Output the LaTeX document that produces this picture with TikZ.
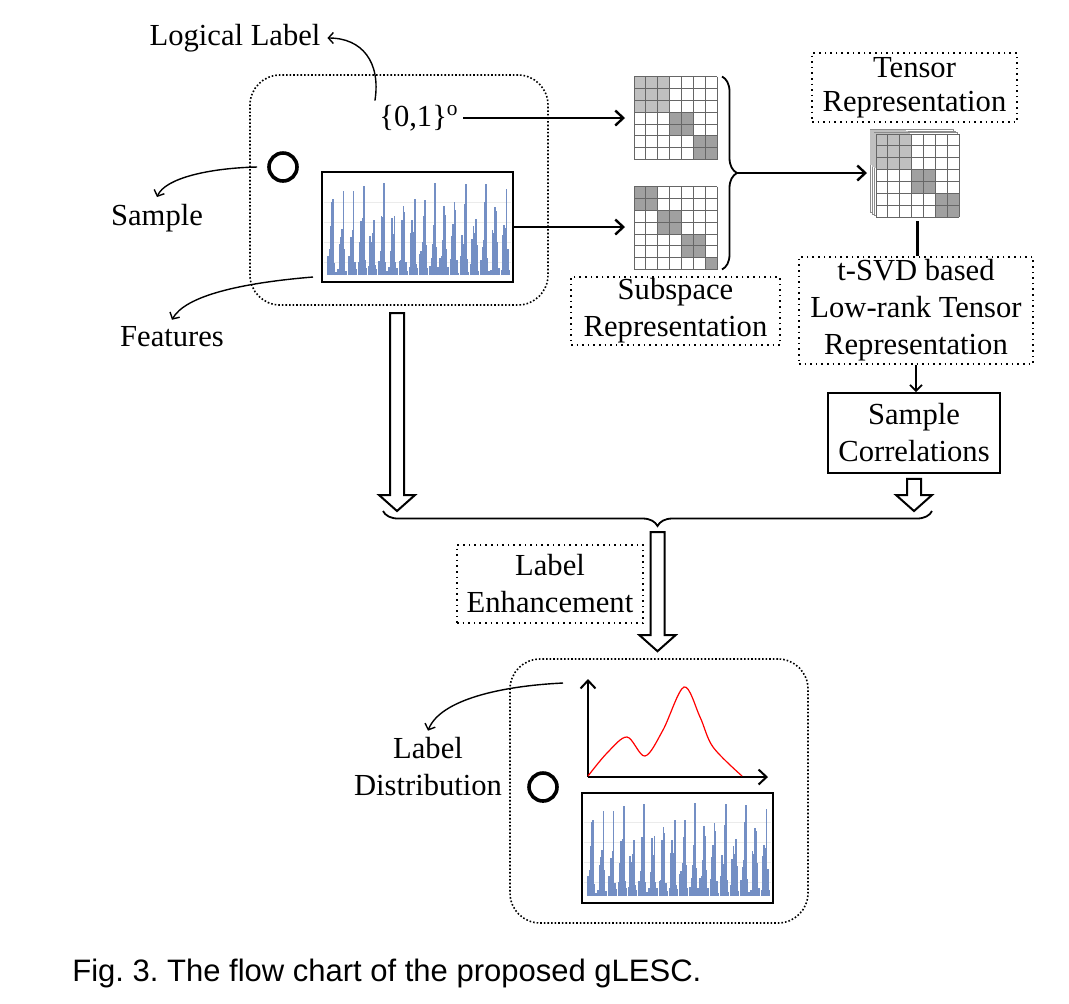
\documentclass[tikz,border=0pt]{standalone}
\usepackage{fontspec}
\setmainfont{Liberation Serif}
\setsansfont{Liberation Sans}
\usetikzlibrary{calc,positioning,arrows.meta,decorations.pathreplacing}
\definecolor{barblue}{RGB}{116,143,196}
\definecolor{cellgray}{RGB}{192,192,192}
\definecolor{blockgray}{RGB}{160,160,160}

% spectrum drawn inside a framed chart node
\newcommand{\barchart}[1]{%
  \begin{scope}[shift={(#1.south west)}]
    \pgfmathsetseed{17}
    \foreach \g in {20,40,60,80} \draw[black!8, line width=0.3pt] (2,-\g) -- (189,-\g);
    \foreach \k in {0,...,17} {
      \foreach \j/\lo/\span in {0/4/18, 1/15/30, 2/30/30, 3/40/35, 4/55/38, 5/10/25, 6/2/6} {
        \pgfmathsetmacro{\hh}{\lo+\span*rnd}
        \draw[barblue, line width=0.75pt] (6+\k*10.2+\j*1.3,-7) -- ++(0,-\hh);
      }
    }
  \end{scope}}

% 7x7 block matrix on a mat node
\newcommand{\blockmat}[2]{%
  \begin{scope}[shift={(#1.north west)}]
    \fill[white] (0,0) rectangle (83,83);
    \foreach \r/\n/\cl in {#2}
      \fill[\cl] (\r*11.857,\r*11.857) rectangle ++(\n*11.857,\n*11.857);
    \foreach \i in {0,...,7} {
      \draw[black!60, line width=0.4pt] (\i*11.857,0) -- (\i*11.857,83);
      \draw[black!60, line width=0.4pt] (0,\i*11.857) -- (83,\i*11.857);
    }
  \end{scope}}

\newcommand{\hollowdown}[2]{%
  \draw[line width=1pt, fill=white] let \p1=(#1), \p2=(#2) in
    (\x1-3.5pt,\y1) -- (\x1-3.5pt,\y2+8pt) -- (\x1-9pt,\y2+8pt) -- (\x1,\y2)
    -- (\x1+9pt,\y2+8pt) -- (\x1+3.5pt,\y2+8pt) -- (\x1+3.5pt,\y1) -- cycle;}

\begin{document}
\frenchspacing
\begin{tikzpicture}[
  x=0.5pt, y=-0.5pt,
  font=\fontsize{15.3}{18.5}\selectfont,
  dotbox/.style={draw, dotted, line width=0.8pt, align=center, inner sep=0pt},
  solidbox/.style={draw, line width=0.8pt, align=center, inner sep=0pt},
  group/.style={draw, densely dotted, line width=0.8pt, rounded corners=15pt},
  mat/.style={inner sep=0pt, outer sep=0pt, minimum size=41.5pt},
  chart/.style={draw, line width=1pt, inner sep=0pt, outer sep=0pt, minimum width=95.5pt, minimum height=55pt},
  ring/.style={draw, circle, line width=1.8pt, minimum size=14pt, inner sep=0pt},
  flow/.style={line width=1.2pt, -{Straight Barb[length=4pt,width=7.5pt]}},
  note/.style={line width=0.7pt, -{Straight Barb[length=2.5pt,width=5.5pt]}},
  brc/.style={decorate, decoration={brace, amplitude=7.5pt}, line width=0.9pt}
]
  \useasboundingbox (0,0) rectangle (1069,1003);

  % input sample
  \node[group, minimum width=149pt, minimum height=115pt] (inbox) at (399,190) {};
  \node (logic) at (235,38) {Logical Label};
  \node[inner sep=2pt] (lbl) at (419,118) {\{0,1\}\textsuperscript{o}};
  \node[ring] (samp1) at (283,167) {};
  \node[chart] (feat1) at (417.5,227) {};
  \barchart{feat1}
  \node (samplbl) at (157,218) {Sample};
  \node (featlbl) at (172,337) {Features};

  \draw[note] (lbl.north west) .. controls (381,62) and (362,38) .. (logic.east);
  \draw[note] ([xshift=-5pt]samp1.west) .. controls (210,168) and (165,178) .. (samplbl.north);
  \draw[note] ([shift={(-4.5pt,2.5pt)}]feat1.south west) .. controls (240,283) and (185,296) .. (featlbl.north);

  % subspace representations
  \node[mat] (sub1) at (675.5,118) {};
  \node[mat] (sub2) at (675.5,228) {};
  \blockmat{sub1}{0/3/cellgray, 3/2/blockgray, 5/2/blockgray}
  \blockmat{sub2}{0/2/blockgray, 2/2/blockgray, 4/2/blockgray, 6/1/blockgray}
  \node[dotbox, minimum width=104.5pt, minimum height=34pt] (subrep) at (675.5,311) {Subspace\\Representation};

  \draw[flow, shorten >=4.5pt] (lbl.east) -- (sub1.west);
  \draw[flow, shorten >=4.5pt] (feat1.east) -- (feat1.east -| sub2.west);
  \draw[brc] ([xshift=2.5pt]sub1.north east) -- ([xshift=2.5pt]sub2.south east);
  \coordinate (rtip) at (737,173);

  % tensor
  \node[mat] (tensor) at (917.5,175.5) {};
  \foreach \o in {3,2,1} {
    \draw[black!45, fill=white, line width=0.4pt] ($(tensor.north west)+(-2*\o,-1.4*\o)$) rectangle +(83,83);
    \fill[cellgray] ($(tensor.north west)+(-2*\o,-1.4*\o)$) rectangle +(35.5,35.5);
  }
  \blockmat{tensor}{0/3/cellgray, 3/2/blockgray, 5/2/blockgray}
  \node[dotbox, minimum width=102.5pt, minimum height=34.5pt, font=\fontsize{15.3}{17}\selectfont] (tenrep) at (914.5,87.5) {Tensor\\Representation};
  \draw[flow, shorten >=4.5pt] (rtip) -- (rtip -| tensor.west);

  \node[dotbox, minimum width=117pt, minimum height=53.5pt] (tsvd) at (916,310.5) {t-SVD based\\Low-rank Tensor\\Representation};
  \node[solidbox, minimum width=86pt, minimum height=40pt] (corr) at (914,433) {Sample\\Correlations};
  \draw[line width=1.2pt, shorten <=2pt] (tensor.south) -- (tensor.south |- tsvd.north);
  \draw[line width=0.9pt, -{Straight Barb[length=3pt,width=6pt]}] (tsvd.south) -- (tsvd.south |- corr.north);

  % merge
  \coordinate (h1a) at (397,313);
  \coordinate (h1b) at (397,511);
  \coordinate (h2a) at ([yshift=-2.5pt]corr.south);
  \coordinate (h2b) at (914,511);
  \hollowdown{h1a}{h1b}
  \hollowdown{h2a}{h2b}
  \draw[brc] (932,511) -- (383,511);

  \node[dotbox, minimum width=93pt, minimum height=39pt] (enh) at (550,584) {Label\\Enhancement};

  % output sample
  \node[group, minimum width=149pt, minimum height=132pt] (outbox) at (659,791) {};
  \coordinate (h3a) at (657.5,532);
  \coordinate (h3b) at ([yshift=3.5pt]outbox.north);
  \hollowdown{h3a}{h3b}

  \coordinate (org) at (588,777);
  \coordinate (ytop) at (588,679);
  \coordinate (xend) at (768,777);
  \draw[flow, line width=1pt] (org) -- (ytop);
  \draw[flow, line width=1pt] (org) -- (xend);
  \draw[red, line width=0.6pt] plot[smooth, tension=0.55] coordinates
    {(588,776) (607,753) (627,737) (645,756) (663,730) (684,687) (700,717) (713,747) (742,776)};

  \node[ring] (samp2) at (543,787) {};
  \node[chart] (feat2) at (677.5,847.5) {};
  \barchart{feat2}
  \node[align=center] (distlbl) at (428,767) {Label\\Distribution};
  \draw[note] ([shift={(-12.5pt,-2pt)}]ytop) .. controls (500,686) and (440,700) .. (distlbl.north);

  \node[anchor=west, inner sep=0pt, font=\sffamily\fontsize{15.5}{18}\selectfont] (cap) at (72,973) {Fig. 3. The flow chart of the proposed gLESC.};
\end{tikzpicture}
\end{document}
